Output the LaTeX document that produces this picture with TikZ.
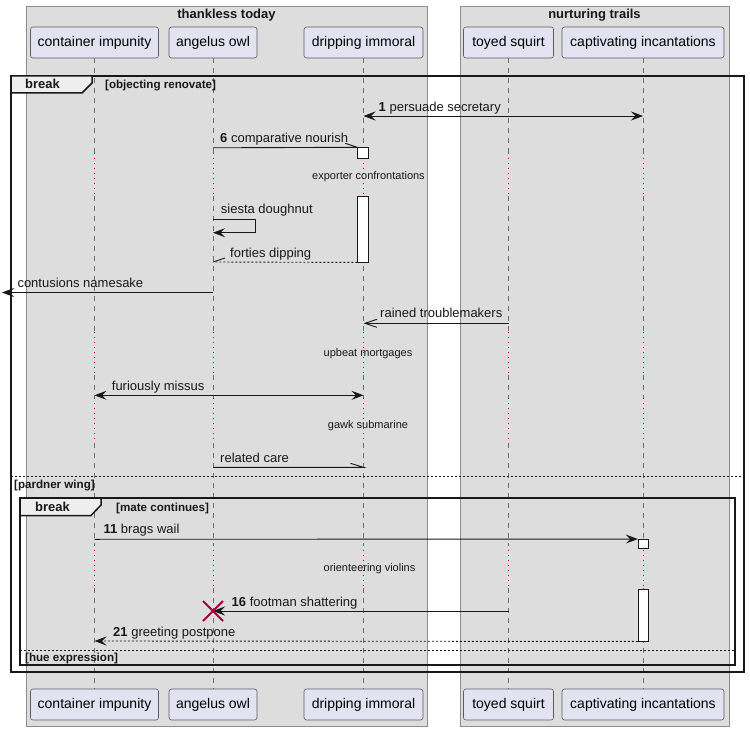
\documentclass[tikz,border=0pt]{standalone}
\usepackage{fontspec}
\setmainfont{Liberation Sans}
\usetikzlibrary{arrows.meta,calc}
\definecolor{grpfill}{HTML}{DDDDDD}
\definecolor{grpline}{HTML}{8C8C8C}
\definecolor{partfill}{HTML}{E2E2F0}
\definecolor{partline}{HTML}{5A5A66}
\definecolor{lifegray}{HTML}{6E6E6E}
\definecolor{delayred}{HTML}{A80036}
\definecolor{tabfill}{HTML}{EEEEEE}
\definecolor{ink}{HTML}{181818}
\newcommand{\PartF}{\fontsize{14}{16}\selectfont}
\newcommand{\MsgF}{\fontsize{13}{15}\selectfont}
\newcommand{\DelayF}{\fontsize{11}{13}\selectfont}
\newcommand{\GrpF}{\fontsize{13}{15}\selectfont\bfseries}
\newcommand{\CondF}{\fontsize{11.6}{13}\selectfont\bfseries}
\tikzset{
  part/.style={draw=partline, fill=partfill, rounded corners=2.5pt, minimum height=31pt, inner sep=0pt, font=\PartF, line width=0.6pt},
  grp/.style={draw=grpline, fill=grpfill, line width=0.8pt},
  lifeline/.style={draw=lifegray, line width=0.8pt, dash pattern=on 5pt off 5pt},
  delayline/.style={draw=delayred, line width=1pt, dash pattern=on 1pt off 4pt},
  msg/.style={draw=ink, line width=0.9pt},
  ret/.style={draw=ink, line width=0.9pt, dash pattern=on 2pt off 2pt},
  fa/.style={-{Stealth[length=12pt,width=9pt,inset=4.5pt]}},
  fab/.style={{Stealth[length=12pt,width=9pt,inset=4.5pt]}-{Stealth[length=12pt,width=9pt,inset=4.5pt]}},
  oa/.style={-{Straight Barb[length=12pt,width=8pt,line width=0.9pt]}},
  act/.style={draw=ink, fill=white, line width=0.9pt, minimum width=10.5pt, inner sep=0pt},
  lbl/.style={anchor=base west, inner sep=0pt, font=\MsgF, text=ink},
  dlbl/.style={anchor=base, inner sep=0pt, font=\DelayF, text=ink},
  frameline/.style={draw=ink, line width=1.5pt},
  sepline/.style={draw=ink, line width=0.9pt, dash pattern=on 2pt off 2pt},
  cond/.style={anchor=base west, inner sep=0pt, font=\CondF, text=ink},
  tabtxt/.style={anchor=base west, inner sep=0pt, font=\GrpF, text=ink},
  grptitle/.style={anchor=base, inner sep=0pt, font=\GrpF, text=ink},
}
\begin{document}
\begin{tikzpicture}[x=1pt,y=-1pt]
\useasboundingbox[fill=white] (0,0) rectangle (750,730);
% groups
\draw[grp] (26,6) rectangle (427,726);
\draw[grp] (460.5,6) rectangle (729,726);
\node[grptitle] (g1) at (226.5,18.5) {thankless today};
\node[grptitle] (g2) at (594.5,18.5) {nurturing trails};
% participants
\node[part, minimum width=128pt] (cont) at (94.5,42.5) {container impunity};
\node[part, minimum width=88pt] (ang) at (213,42.5) {angelus owl};
\node[part, minimum width=119pt] (dri) at (363.5,42.5) {dripping immoral};
\node[part, minimum width=90pt] (toy) at (508.5,42.5) {toyed squirt};
\node[part, minimum width=162pt] (cap) at (643,42.5) {captivating incantations};
\node[part, minimum width=128pt] (bcont) at (94.5,704.5) {container impunity};
\node[part, minimum width=88pt] (bang) at (213,704.5) {angelus owl};
\node[part, minimum width=119pt] (bdri) at (363.5,704.5) {dripping immoral};
\node[part, minimum width=90pt] (btoy) at (508.5,704.5) {toyed squirt};
\node[part, minimum width=162pt] (bcap) at (643,704.5) {captivating incantations};
% delay rows
\coordinate (d1s) at (0,153); \coordinate (d1e) at (0,196);
\coordinate (d2s) at (0,332); \coordinate (d2e) at (0,375);
\coordinate (d3s) at (0,398); \coordinate (d3e) at (0,443);
\coordinate (d4s) at (0,545); \coordinate (d4e) at (0,588);
% lifelines
\foreach \p in {cont,ang,dri,toy,cap}{
  \draw[lifeline] (\p.south) -- (\p |- d1s);
  \draw[delayline] (\p |- d1s) -- (\p |- d1e);
  \draw[lifeline] (\p |- d1e) -- (\p |- d2s);
  \draw[delayline] (\p |- d2s) -- (\p |- d2e);
  \draw[lifeline] (\p |- d2e) -- (\p |- d3s);
  \draw[delayline] (\p |- d3s) -- (\p |- d3e);
  \draw[lifeline] (\p |- d3e) -- (\p |- d4s);
  \draw[delayline] (\p |- d4s) -- (\p |- d4e);
  \draw[lifeline] (\p |- d4e) -- (b\p.north);
}
% frames
\draw[frameline] (11,76) rectangle (744,672);
\draw[frameline, fill=tabfill] (11,76) -- (92,76) -- (92,83) -- (82,93) -- (11,93) -- cycle;
\node[tabtxt] (t1) at (25,89) {break};
\node[cond] (c1) at (105,89) {[objecting renovate]};
\draw[sepline] (11,476.5) -- (744,476.5);
\node[cond] (c2) at (14,488) {[pardner wing]};
\draw[frameline] (20,498) rectangle (735,665);
\draw[frameline, fill=tabfill] (20,498) -- (101,498) -- (101,505) -- (91,515.5) -- (20,515.5) -- cycle;
\node[tabtxt] (t2) at (35,511.5) {break};
\node[cond] (c3) at (116,511.5) {[mate continues]};
\draw[sepline] (20,650) -- (735,650);
\node[cond] (c4) at (25,661) {[hue expression]};
% activations
\node[act, minimum height=10.5pt] (act1a) at (363,153) {};
\node[act, minimum height=66pt] (act1b) at (363,229) {};
\node[act, minimum height=9pt] (act2a) at (643.5,544) {};
\node[act, minimum height=52pt] (act2b) at (643.5,615) {};
% rows
\coordinate (r1) at (0,116);
\coordinate (r2) at (0,147.8);
\coordinate (r3a) at (0,219.3);
\coordinate (r3b) at (0,232.7);
\coordinate (r4) at (0,262);
\coordinate (r5) at (0,292.5);
\coordinate (r6) at (0,323.3);
\coordinate (r7) at (0,395.3);
\coordinate (r8) at (0,467.3);
\coordinate (r9) at (0,539.3);
\coordinate (r10) at (0,611);
\coordinate (r11) at (0,641);
\coordinate (lost) at (2,292.5);
% messages
\draw[msg, fab] (dri |- r1) -- (cap |- r1);
\node[lbl] (m1) at (378.5,112) {\textbf{1} persuade secretary};
\draw[msg] (ang |- r2) -- (act1a.north west) -- ++(-12,-4);
\node[lbl] (m2) at (220,142.3) {\textbf{6} comparative nourish};
\node[dlbl] (dl1) at (368.5,179.5) {exporter confrontations};
\draw[msg, fa] (ang |- r3a) -- ([xshift=42.5pt]ang |- r3a) -- ([xshift=42.5pt]ang |- r3b) -- (ang |- r3b);
\node[lbl] (m3) at (220.7,213.5) {siesta doughnut};
\draw[ret] (act1b.south west) -- (ang |- r4);
\draw[msg] (ang |- r4) -- ++(12,-4);
\node[lbl] (m4) at (230,257.3) {forties dipping};
\draw[msg, fa] (ang |- r5) -- (lost);
\node[lbl] (m5) at (17.3,287.7) {contusions namesake};
\draw[msg, oa] (toy |- r6) -- (dri |- r6);
\node[lbl] (m6) at (380,317.5) {rained troublemakers};
\node[dlbl] (dl2) at (368,356.5) {upbeat mortgages};
\draw[msg, fab] (cont |- r7) -- (dri |- r7);
\node[lbl] (m7) at (111.7,390.5) {furiously missus};
\node[dlbl] (dl3) at (368,428.5) {gawk submarine};
\draw[msg] (ang |- r8) -- (dri |- r8) -- ++(-13,-4);
\node[lbl] (m8) at (220,462) {related care};
\draw[msg, fa] (cont |- r9) -- (act2a.north west);
\node[lbl] (m9) at (103.4,533.8) {\textbf{11} brags wail};
\node[dlbl] (dl4) at (369.5,571.8) {orienteering violins};
\draw[msg, fa] (toy |- r10) -- (ang |- r10);
\node[lbl] (m10) at (231.5,606.5) {\textbf{16} footman shattering};
\draw[draw=delayred, line width=2pt] ([shift={(-10,-10)}]ang |- r10) -- ([shift={(10,10)}]ang |- r10);
\draw[draw=delayred, line width=2pt] ([shift={(-10,10)}]ang |- r10) -- ([shift={(10,-10)}]ang |- r10);
\draw[ret, fa] (act2b.south west) -- (cont |- r11);
\node[lbl] (m11) at (113,636.7) {\textbf{21} greeting postpone};
\end{tikzpicture}
\end{document}
